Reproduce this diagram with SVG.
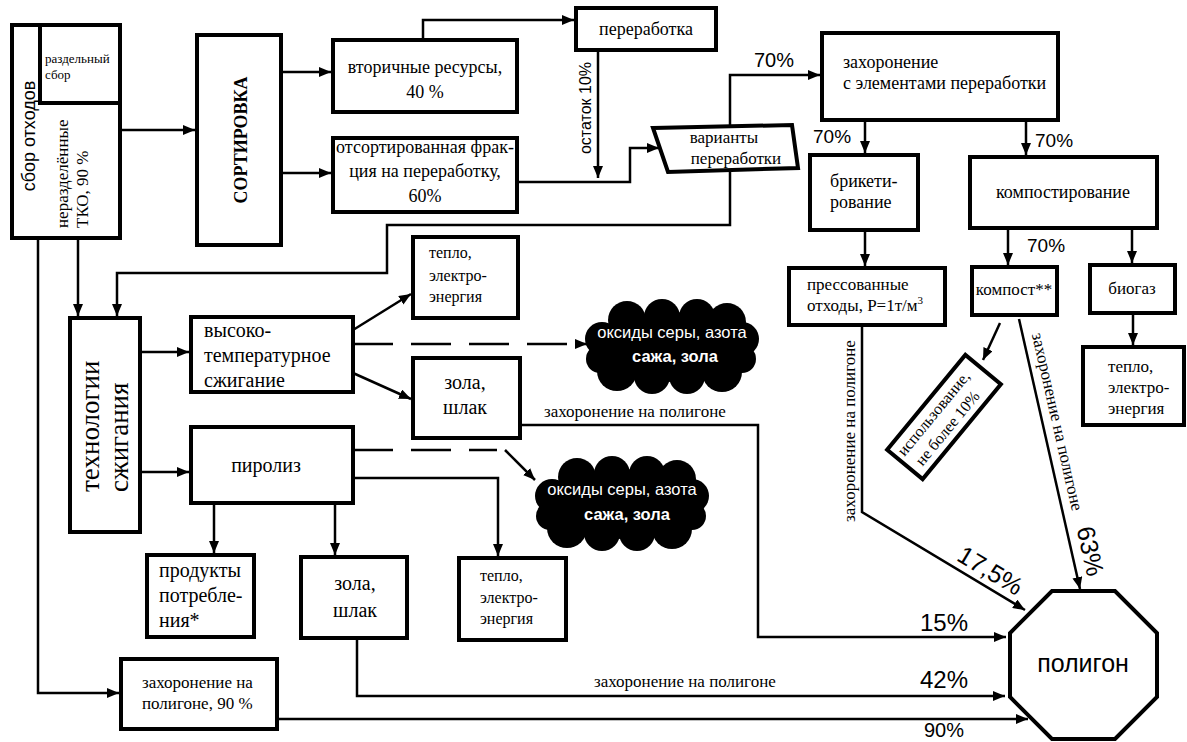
<svg xmlns="http://www.w3.org/2000/svg" width="1187" height="742" viewBox="0 0 1187 742">
<style>
.b{fill:#fff;stroke:#000;stroke-width:4}
.l{fill:none;stroke:#000;stroke-width:2.5}
.a{marker-end:url(#ah)}
.d{stroke-dasharray:40 18}
.s{font-family:"Liberation Serif","Times New Roman",serif;fill:#000}
.ss{font-family:"Liberation Sans",Arial,sans-serif;fill:#000}
.w{font-family:"Liberation Sans",Arial,sans-serif;fill:#fff}
.m{text-anchor:middle}
</style>
<defs>
<marker id="ah" viewBox="0 0 12 10" refX="12" refY="5" markerWidth="12" markerHeight="10" markerUnits="userSpaceOnUse" orient="auto"><path d="M0,0 L12,5 L0,10 z" fill="#000"/></marker>
<g id="cloud" fill="#000">
<ellipse cx="0" cy="0" rx="76" ry="35"/>
<circle cx="-70" cy="-8" r="17"/>
<circle cx="70" cy="-8" r="17"/>
<circle cx="-72" cy="12" r="14"/>
<circle cx="70" cy="12" r="14"/>
<circle cx="-45" cy="-27" r="19"/>
<circle cx="-10" cy="-30" r="18"/>
<circle cx="25" cy="-30" r="18"/>
<circle cx="55" cy="-25" r="19"/>
<circle cx="-55" cy="24" r="20"/>
<circle cx="-20" cy="29" r="18"/>
<circle cx="15" cy="29" r="18"/>
<circle cx="50" cy="25" r="20"/>
</g>
</defs>
<rect width="1187" height="742" fill="#fff"/>

<g id="connectors">
<path class="l a" d="M120,130 H195"/>
<path class="l a" d="M281,72 H331"/>
<path class="l a" d="M281,173 H331"/>
<path class="l a" d="M423,40 V20 H574"/>
<path class="l a" d="M598,50 V178"/>
<path class="l a" d="M517,182 H630 V148 H659"/>
<path class="l a" d="M730,126 V75 H820"/>
<path class="l a" d="M730,170 V225 H387 V273 H117 V316"/>
<path class="l a" d="M78,238 V316"/>
<path class="l a" d="M38,238 V693 H119"/>
<path class="l a" d="M140,352 H189"/>
<path class="l a" d="M140,472 H189"/>
<path class="l a" d="M353,330 L411,294"/>
<path class="l a" d="M353,373 L411,399"/>
<path class="l d" d="M353,344 H575"/>
<path class="l a" d="M575,344 H587"/>
<path class="l d" d="M353,450 H497"/>
<path class="l a" d="M505,450 L535,480"/>
<path class="l a" d="M353,478 H498 V556"/>
<path class="l a" d="M214,503 V553"/>
<path class="l a" d="M335,503 V555"/>
<path class="l a" d="M520,425 H758 V637 H1006"/>
<path class="l a" d="M357,638 V696 H1005"/>
<path class="l a" d="M277,719 H1028"/>
<path class="l a" d="M862,325 V512 L1025,610"/>
<path class="l a" d="M1019,319 L1080,589"/>
<path class="l a" d="M1000,323 L983,360"/>
<path class="l a" d="M865,120 V153"/>
<path class="l a" d="M1026,120 V155"/>
<path class="l a" d="M865,230 V266"/>
<path class="l a" d="M1008,228 V265"/>
<path class="l a" d="M1132,228 V263"/>
<path class="l a" d="M1133,313 V345"/>
<text class="ss" x="754" y="67" font-size="20">70%</text>
<text class="ss" x="813" y="143" font-size="19">70%</text>
<text class="ss" x="1035" y="147" font-size="19">70%</text>
<text class="ss" x="1027" y="252" font-size="19">70%</text>
<text class="ss m" transform="translate(591,108) rotate(-90)" font-size="16">остаток 10%</text>
<text class="s" x="544" y="417" font-size="17">захоронение на полигоне</text>
<text class="s" x="594" y="687" font-size="17">захоронение на полигоне</text>
<text class="ss" x="920" y="631" font-size="24">15%</text>
<text class="ss" x="920" y="688" font-size="24">42%</text>
<text class="ss" x="924" y="737" font-size="20">90%</text>
<text class="ss m" transform="translate(986,578) rotate(31)" font-size="25">17,5%</text>
<text class="ss m" transform="translate(1082,553) rotate(77.2)" font-size="25">63%</text>
<text class="s m" transform="translate(1052,423) rotate(77.2)" font-size="17">захоронение на полигоне</text>
<text class="s m" transform="translate(855,431) rotate(-90)" font-size="17">захоронение на полигоне</text>
</g>

<g id="sbor">
<rect class="b" x="12" y="25" width="108" height="213" stroke-width="4.5"/>
<rect class="b" x="40" y="25" width="80" height="78"/>
<text class="s" x="45" y="63" font-size="13">раздельный</text>
<text class="s" x="45" y="79" font-size="13">сбор</text>
<text class="ss m" transform="translate(35,136) rotate(-90)" font-size="18">сбор отходов</text>
<text class="s" transform="translate(68,228) rotate(-90)" font-size="17">неразделённые</text>
<text class="s" transform="translate(88,228) rotate(-90)" font-size="17">ТКО, 90 %</text>
</g>

<g id="sortirovka">
<rect class="b" x="197" y="35" width="84" height="210"/>
<text class="s m" transform="translate(247,140) rotate(-90)" font-size="18" font-weight="bold">СОРТИРОВКА</text>
</g>

<g id="vtorichnye">
<rect class="b" x="333" y="40" width="184" height="72"/>
<text class="s m" x="425" y="73" font-size="18">вторичные ресурсы,</text>
<text class="s m" x="425" y="98" font-size="18">40 %</text>
</g>

<g id="otsortirovannaya">
<rect class="b" x="333" y="138" width="184" height="74"/>
<text class="s m" x="425" y="153" font-size="18">отсортированная фрак-</text>
<text class="s m" x="425" y="177" font-size="18">ция на переработку,</text>
<text class="s m" x="425" y="202" font-size="18">60%</text>
</g>

<g id="pererabotka">
<rect class="b" x="576" y="8" width="140" height="42"/>
<text class="s m" x="646" y="35" font-size="18">переработка</text>
</g>

<g id="varianty">
<polygon class="b" points="653,128 792,125 798,168 668,172"/>
<text class="s m" x="724" y="143" font-size="17">варианты</text>
<text class="s m" x="736" y="164" font-size="17">переработки</text>
</g>

<g id="zahoronenie-el">
<rect class="b" x="822" y="33" width="236" height="87"/>
<text class="s" x="843" y="68" font-size="18">захоронение</text>
<text class="s" x="843" y="89" font-size="18">с элементами переработки</text>
</g>

<g id="briket">
<rect class="b" x="810" y="155" width="108" height="75"/>
<text class="s" x="830" y="187" font-size="18">брикети-</text>
<text class="s" x="830" y="208" font-size="18">рование</text>
</g>

<g id="kompostirovanie">
<rect class="b" x="970" y="157" width="187" height="71"/>
<text class="s m" x="1063" y="198" font-size="18">компостирование</text>
</g>

<g id="pressovannye">
<rect class="b" x="789" y="268" width="156" height="57"/>
<text class="s" x="807" y="290" font-size="17">прессованные</text>
<text class="s" x="807" y="311" font-size="17">отходы, P=1т/м<tspan font-size="11" dy="-7">3</tspan></text>
</g>

<g id="kompost">
<rect class="b" x="972" y="267" width="85" height="48"/>
<text class="s m" x="1014" y="295" font-size="17">компост**</text>
</g>

<g id="biogaz">
<rect class="b" x="1090" y="265" width="85" height="48"/>
<text class="s m" x="1132" y="294" font-size="17">биогаз</text>
</g>

<g id="teplo3">
<rect class="b" x="1083" y="347" width="101" height="78"/>
<text class="s" x="1108" y="372" font-size="17">тепло,</text>
<text class="s" x="1108" y="393" font-size="17">электро-</text>
<text class="s" x="1108" y="414" font-size="17">энергия</text>
</g>

<g id="ispolzovanie">
<g transform="translate(944,417) rotate(-50.5)">
<rect class="b" x="-61.5" y="-23" width="123" height="46" stroke-width="3.5"/>
<text class="s" x="-56" y="-5" font-size="16">использование,</text>
<text class="s" x="-52" y="15" font-size="16">не более 10%</text>
</g>
</g>

<g id="tehnologii">
<rect class="b" x="70" y="318" width="70" height="214"/>
<text class="s" transform="translate(99,492) rotate(-90)" font-size="27">технологии</text>
<text class="s" transform="translate(128,492) rotate(-90)" font-size="27">сжигания</text>
</g>

<g id="vysoko">
<rect class="b" x="191" y="317" width="162" height="75"/>
<text class="s" x="204" y="337" font-size="20">высоко-</text>
<text class="s" x="204" y="362" font-size="20">температурное</text>
<text class="s" x="204" y="387" font-size="20">сжигание</text>
</g>

<g id="piroliz">
<rect class="b" x="191" y="427" width="162" height="76"/>
<text class="s m" x="266" y="472" font-size="20">пиролиз</text>
</g>

<g id="teplo1">
<rect class="b" x="413" y="237" width="105" height="81"/>
<text class="s" x="429" y="258" font-size="16">тепло,</text>
<text class="s" x="429" y="281" font-size="16">электро-</text>
<text class="s" x="429" y="302" font-size="16">энергия</text>
</g>

<g id="zola1">
<rect class="b" x="413" y="358" width="107" height="80"/>
<text class="s m" x="465" y="389" font-size="20">зола,</text>
<text class="s m" x="465" y="414" font-size="20">шлак</text>
</g>

<g id="cloud1">
<use href="#cloud" x="672" y="347"/>
<text class="w m" x="672" y="338" font-size="16.5">оксиды серы, азота</text>
<text class="w m" x="675" y="362" font-size="16.5" font-weight="bold">сажа, зола</text>
</g>

<g id="cloud2">
<use href="#cloud" x="622" y="504"/>
<text class="w m" x="622" y="495" font-size="16.5">оксиды серы, азота</text>
<text class="w m" x="627" y="520" font-size="16.5" font-weight="bold">сажа, зола</text>
</g>

<g id="produkty">
<rect class="b" x="147" y="555" width="107" height="82"/>
<text class="s" x="159" y="577" font-size="20">продукты</text>
<text class="s" x="159" y="602" font-size="20">потребле-</text>
<text class="s" x="159" y="627" font-size="20">ния*</text>
</g>

<g id="zola2">
<rect class="b" x="301" y="557" width="106" height="81"/>
<text class="s m" x="355" y="590" font-size="20">зола,</text>
<text class="s m" x="355" y="617" font-size="20">шлак</text>
</g>

<g id="teplo2">
<rect class="b" x="459" y="558" width="107" height="82"/>
<text class="s" x="480" y="581" font-size="16">тепло,</text>
<text class="s" x="480" y="603" font-size="16">электро-</text>
<text class="s" x="480" y="624" font-size="16">энергия</text>
</g>

<g id="zahoronenie90">
<rect class="b" x="121" y="659" width="156" height="70"/>
<text class="s" x="142" y="688" font-size="17">захоронение на</text>
<text class="s" x="142" y="709" font-size="17">полигоне, 90 %</text>
</g>

<g id="poligon">
<polygon class="b" points="1052,591 1115,591 1157,633 1157,697 1115,739 1052,739 1010,697 1010,633"/>
<text class="ss m" x="1083" y="672" font-size="25">полигон</text>
</g>
</svg>
